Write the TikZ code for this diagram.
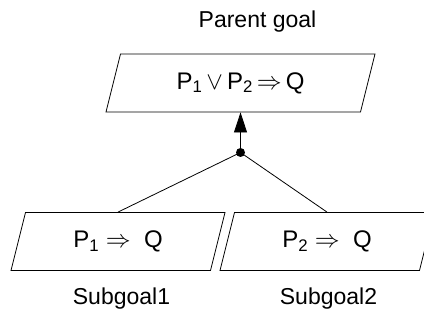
\documentclass[tikz,border=0pt]{standalone}
\usepackage{fontspec}
\setmainfont{Liberation Sans}
\usetikzlibrary{shapes.geometric, positioning, arrows.meta}

\begin{document}
\begin{tikzpicture}[
    x=1pt, y=-1pt,
    >={Triangle[length=20pt,width=13pt]},
    goal/.style={
        draw,
        trapezium,
        trapezium left angle=62.6,
        trapezium right angle=117.4,
        trapezium stretches body,
        minimum height=58pt,
        line width=0.8pt,
        font=\fontsize{24}{28}\selectfont
    },
    caption/.style={
        font=\fontsize{23}{27}\selectfont,
        inner sep=0pt,
        anchor=base
    }
]
\clip (0,0) rectangle (424,323);

% goal boxes
\node[goal, minimum width=269pt] (parent) at (240.5,83)
    {P\textsubscript{1}\,$\vee$\,P\textsubscript{2}\,$\Rightarrow$\,Q};
\node[goal, minimum width=214pt] (sub1) at (118,241.5)
    {P\textsubscript{1} $\Rightarrow$\ \ Q};
\node[goal, minimum width=214pt] (sub2) at (327,241.5)
    {P\textsubscript{2} $\Rightarrow$\ \ Q};

% captions
\node[caption] (ptext) at (257.5,28) {Parent goal};
\node[caption] (s1text) at (121.5,305) {Subgoal1};
\node[caption] (s2text) at (328.5,305) {Subgoal2};

% and-junction
\coordinate (join) at (240.5,152.5);
\fill (join) circle (4.5pt);
\draw[->, line width=0.8pt] (join) -- (parent.south);
\draw[line width=0.8pt] (join) -- (sub1.north);
\draw[line width=0.8pt] (join) -- (sub2.north);
\end{tikzpicture}
\end{document}
